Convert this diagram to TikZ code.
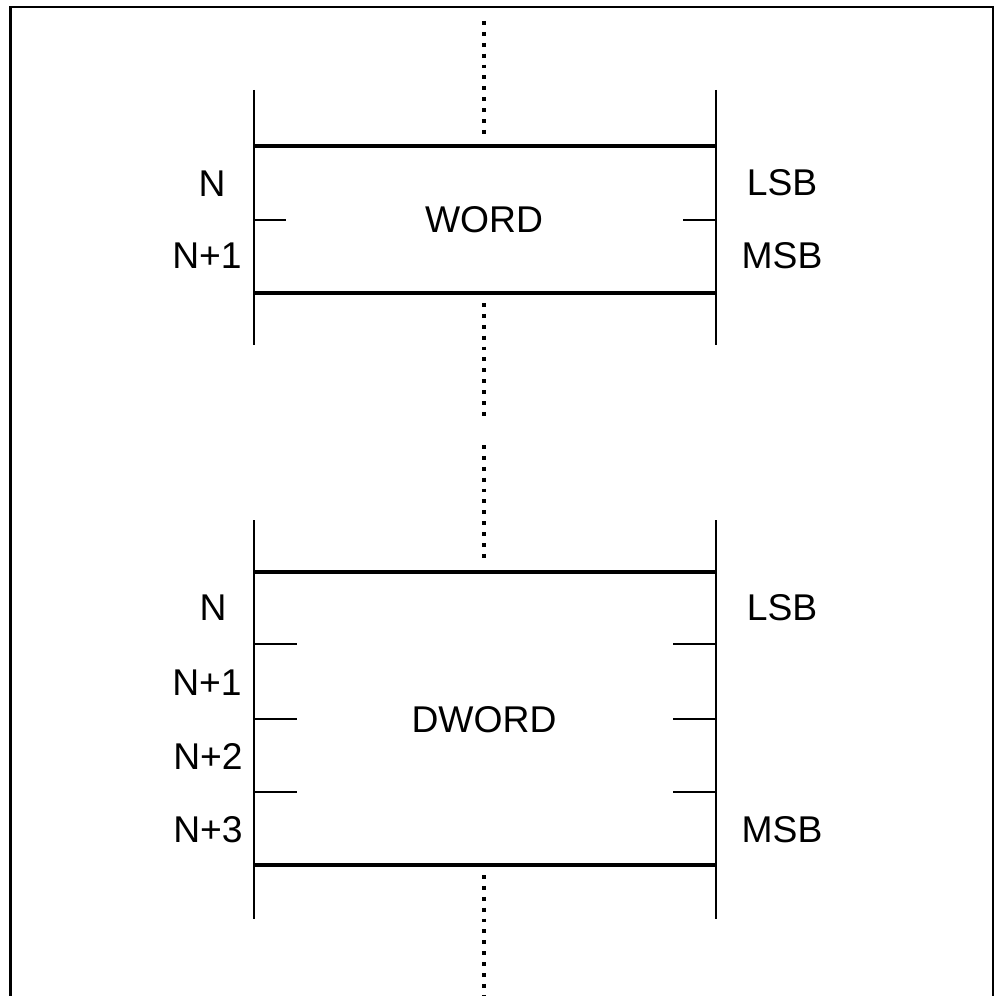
\documentclass[tikz,border=0pt]{standalone}
\usepackage{fontspec}
\setmainfont{Liberation Sans}

\tikzset{
  rail/.style={line width=0.8pt},
  bound/.style={line width=1pt},
  split/.style={line width=0.8pt},
  gap/.style={line width=0.9pt, dash pattern=on 1.1pt off 2pt},
  lbl/.style={inner sep=0pt},
}

\begin{document}
\begin{tikzpicture}[font=\fontsize{10.6}{12.5}\selectfont]
\useasboundingbox (0,0) rectangle (9.95,-9.96);
\draw[line width=0.7pt] (0.107,-9.99) -- (0.107,-0.07) -- (9.93,-0.07) -- (9.93,-9.99);

% word
\coordinate (wl0) at (2.54,-0.90);
\coordinate (wl1) at (2.54,-3.45);
\coordinate (wr0) at (7.16,-0.90);
\coordinate (wr1) at (7.16,-3.45);
\coordinate (wtl) at (2.54,-1.46);
\coordinate (wtr) at (7.16,-1.46);
\coordinate (wbl) at (2.54,-2.93);
\coordinate (wbr) at (7.16,-2.93);
\node[lbl] (word) at (4.84,-2.20) {WORD};
\node[lbl] (wn0) at (2.12,-1.84) {N};
\node[lbl] (wn1) at (2.07,-2.56) {N+1};
\node[lbl] (wlsb) at (7.82,-1.83) {LSB};
\node[lbl] (wmsb) at (7.82,-2.56) {MSB};
\draw[rail] (wl0) -- (wl1);
\draw[rail] (wr0) -- (wr1);
\draw[bound] (wtl) -- (wtr);
\draw[bound] (wbl) -- (wbr);
\draw[split] (2.54,-2.20) -- (2.86,-2.20);
\draw[split] (6.83,-2.20) -- (7.16,-2.20);

% dword
\coordinate (dl0) at (2.54,-5.20);
\coordinate (dl1) at (2.54,-9.19);
\coordinate (dr0) at (7.16,-5.20);
\coordinate (dr1) at (7.16,-9.19);
\coordinate (dtl) at (2.54,-5.72);
\coordinate (dtr) at (7.16,-5.72);
\coordinate (dbl) at (2.54,-8.65);
\coordinate (dbr) at (7.16,-8.65);
\node[lbl] (dword) at (4.84,-7.195) {DWORD};
\node[lbl] (dn0) at (2.13,-6.08) {N};
\node[lbl] (dn1) at (2.07,-6.825) {N+1};
\node[lbl] (dn2) at (2.08,-7.56) {N+2};
\node[lbl] (dn3) at (2.08,-8.30) {N+3};
\node[lbl] (dlsb) at (7.82,-6.08) {LSB};
\node[lbl] (dmsb) at (7.82,-8.30) {MSB};
\draw[rail] (dl0) -- (dl1);
\draw[rail] (dr0) -- (dr1);
\draw[bound] (dtl) -- (dtr);
\draw[bound] (dbl) -- (dbr);
\foreach \y in {-6.44,-7.19,-7.92} {
  \draw[split] (2.54,\y) -- (2.97,\y);
  \draw[split] (6.73,\y) -- (7.16,\y);
}

% memory continues
\draw[gap] (4.84,-0.21) -- (4.84,-1.40);
\draw[gap] (4.84,-3.03) -- (4.84,-4.20);
\draw[gap] (4.84,-4.45) -- (4.84,-5.62);
\draw[gap] (4.84,-8.75) -- (4.84,-9.96);
\end{tikzpicture}
\end{document}
